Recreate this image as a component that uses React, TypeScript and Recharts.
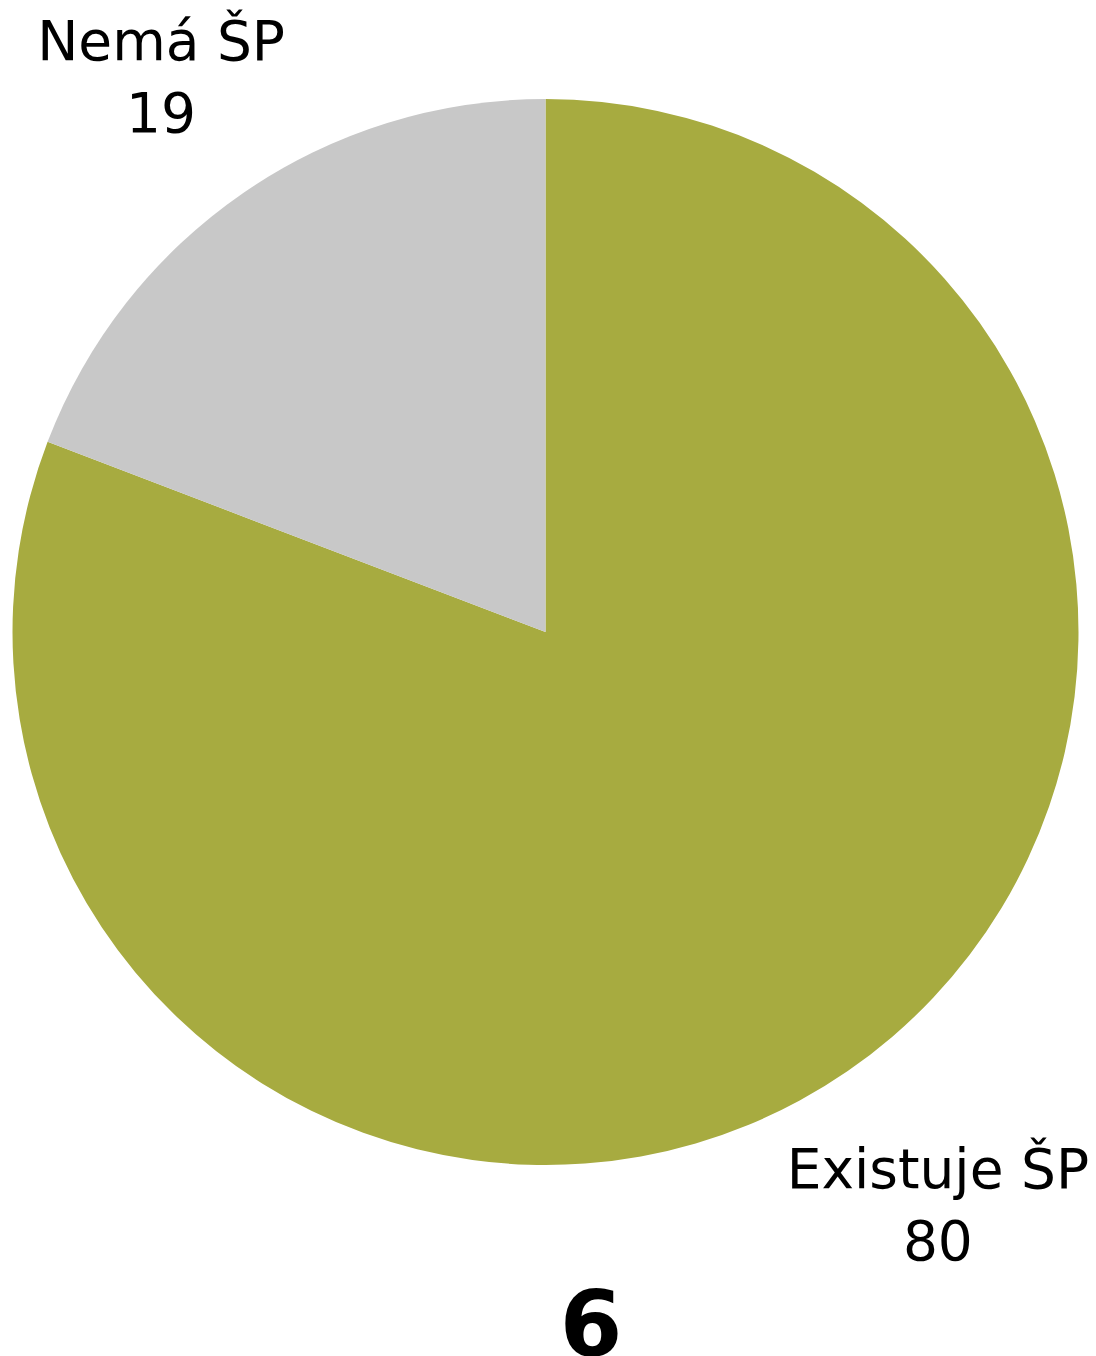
import { PieChart, Pie, Cell } from "recharts";

const categories = ["Existuje ŠP", "Nemá ŠP"];
const values = [80, 19];
const colors = ["#a7ab40", "#c8c8c8"];

const data = categories.map((name, i) => ({ name, value: values[i] }));

const RADIAN = Math.PI / 180;

function renderLabel(props: any) {
  const { cx, cy, midAngle, outerRadius, name, value } = props;
  const r = outerRadius * 1.285;
  const x = cx + r * Math.cos(-midAngle * RADIAN) + 4;
  const y = cy + r * Math.sin(-midAngle * RADIAN) - 8;
  return (
    <text
      x={x}
      y={y}
      textAnchor="middle"
      fill="#000"
      fontSize={55}
      fontFamily="'DejaVu Sans', sans-serif"
    >
      <tspan x={x} dy={0}>{name}</tspan>
      <tspan x={x} dy={72}>{value}</tspan>
    </text>
  );
}

export default function App() {
  return (
    <div style={{ position: "absolute", left: 0, top: 0, width: 1096, height: 1356, background: "#fff", overflow: "hidden" }}>
      <PieChart width={1096} height={1356} margin={{ top: 0, right: 0, bottom: 0, left: 0 }}>
        <Pie
          data={data}
          dataKey="value"
          nameKey="name"
          cx={545.5}
          cy={632}
          outerRadius={533}
          startAngle={90}
          endAngle={-270}
          stroke="none"
          label={renderLabel}
          labelLine={false}
          isAnimationActive={false}
        >
          {data.map((entry, index) => (
            <Cell key={`cell-${index}`} fill={colors[index]} />
          ))}
        </Pie>
      </PieChart>
      <div
        style={{
          position: "absolute",
          left: 491,
          width: 200,
          top: 1272,
          textAlign: "center",
          fontFamily: "'DejaVu Sans', sans-serif",
          fontWeight: 700,
          fontSize: 90,
          lineHeight: "105px",
          color: "#000",
        }}
      >
        6
      </div>
    </div>
  );
}
